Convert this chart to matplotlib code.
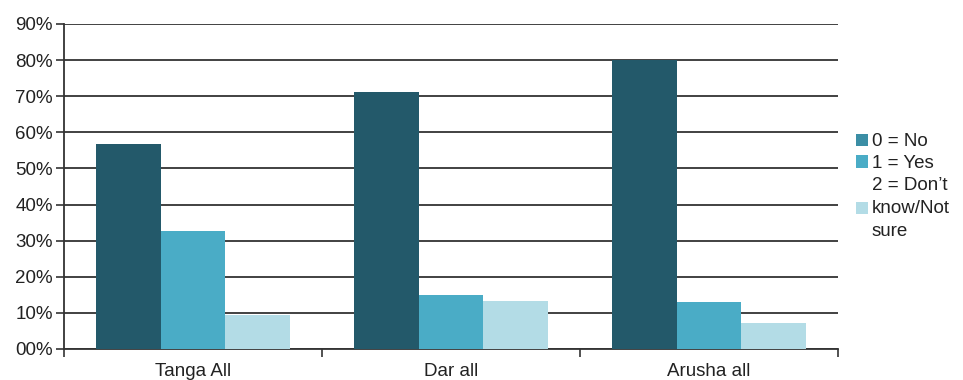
import matplotlib
matplotlib.use("Agg")
import matplotlib.pyplot as plt
import numpy as np
from matplotlib.patches import Patch

plt.rcParams['font.family'] = ['Liberation Sans', 'DejaVu Sans']

categories = ["Tanga All", "Dar all", "Arusha all"]
series_names = ["0 = No", "1 = Yes", "2 = Don\u2019t\nknow/Not\nsure"]
no_vals = [56.8, 71.2, 80.0]
yes_vals = [32.7, 15.0, 13.0]
dk_vals = [9.4, 13.3, 7.1]
ytick_labels = ["00%", "10%", "20%", "30%", "40%", "50%", "60%", "70%", "80%", "90%"]

colors = ["#23596a", "#4aacc6", "#b3dce6"]
legend_colors = ["#3b8ea5", "#4aacc6", "#b3dce6"]

FS = 13.5

fig = plt.figure(figsize=(9.63, 3.80), dpi=100)
ax = fig.add_axes([0.0665, 0.0816, 0.8037, 0.8553])

x = np.arange(len(categories))
w = 0.25
series = [no_vals, yes_vals, dk_vals]
for i, vals in enumerate(series):
    ax.bar(x + (i - 1) * w, vals, width=w, color=colors[i], zorder=3, linewidth=0)

ax.set_xlim(-0.5, 2.5)
ax.set_ylim(0, 90)
ax.set_yticks(np.arange(0, 91, 10))
ax.set_yticklabels(ytick_labels, fontsize=FS, color="#222222")
ax.yaxis.grid(True, color="#333333", linewidth=1.3, zorder=1)
ax.set_axisbelow(True)

ax.set_xticks(x)
ax.set_xticklabels(categories, fontsize=FS, color="#222222")
ax.tick_params(axis='x', length=0, pad=10)
ax.set_xticks([-0.5, 0.5, 1.5, 2.5], minor=True)
ax.tick_params(axis='x', which='minor', length=6, width=1.2, color="#333333", direction='out')
ax.tick_params(axis='y', length=6, width=1.2, color="#333333", direction='out', pad=2)

for s in ['top', 'right']:
    ax.spines[s].set_visible(False)
ax.spines['left'].set_color("#333333")
ax.spines['left'].set_linewidth(1.3)
ax.spines['bottom'].set_color("#333333")
ax.spines['bottom'].set_linewidth(1.3)

handles = [Patch(facecolor=legend_colors[i], edgecolor='none') for i in range(3)]
leg = ax.legend(handles, series_names, loc='center left', bbox_to_anchor=(1.023, 0.50),
                frameon=False, fontsize=FS, handlelength=0.65, handleheight=0.65,
                handletextpad=0.2, labelspacing=0.25, borderpad=0, borderaxespad=0)
for t in leg.get_texts():
    t.set_color("#222222")
    t.set_linespacing(1.45)

fig.savefig("out.png", dpi=100)
